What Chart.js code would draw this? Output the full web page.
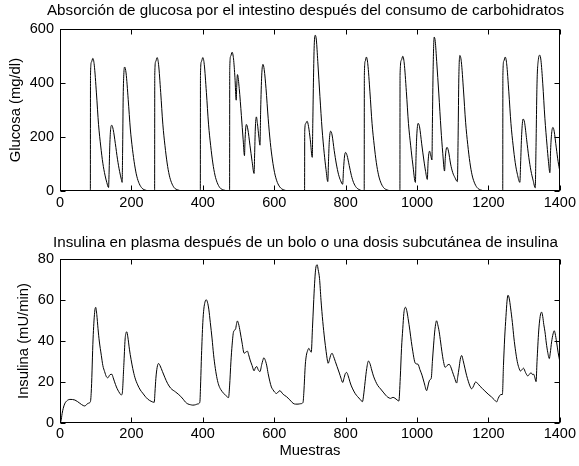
<!DOCTYPE html>
<html>
<head>
<meta charset="utf-8">
<script src="https://cdn.jsdelivr.net/npm/chart.js@4.4.1/dist/chart.umd.min.js"></script>
<style>
  html, body { margin: 0; padding: 0; background: #fff; }
  #wrap { position: relative; width: 579px; height: 466px; }
  canvas { position: absolute; left: 0; }
  #glucoseChart { top: 0; }
  #insulinChart { top: 230px; }
</style>
</head>
<body>
<div id="wrap">
  <canvas id="glucoseChart" width="579" height="230"></canvas>
  <canvas id="insulinChart" width="579" height="236"></canvas>
</div>
<script>
// TICKS
const sampleTicks = [0, 200, 400, 600, 800, 1000, 1200, 1400];
const glucoseTicks = [0, 200, 400, 600];
const insulinTicks = [0, 20, 40, 60, 80];

// GLUCOSE ABSORPTION
const glucoseX = [
  0, 84.5, 85, 85.4, 88, 92, 96, 102, 108, 114, 120, 126, 131, 136,
  137.5, 139.5, 142, 145, 149, 155, 161, 167, 172, 174,
  175.3, 177, 179, 181, 185, 191, 197, 203, 209, 215, 222, 230, 240, 250,
  264.5, 265, 265.4, 268, 272, 276, 282, 288, 294, 300, 306, 312, 320, 330, 340, 350,
  392.5, 393, 393.4, 396, 400, 404, 410, 416, 422, 428, 434, 440, 448, 458, 468,
  474.5, 475, 475.4, 478, 482, 486, 490, 493.5, 495, 497, 502, 508, 513, 516.7,
  518, 520, 522, 526, 532, 538, 543.5, 545, 547, 550, 553, 557, 560,
  562, 565, 568.5, 572, 577, 583, 589, 595, 601, 607, 614, 622, 632, 642,
  684.5, 685, 685.4, 688, 692, 696, 701, 706.5, 708, 710, 712, 715, 718, 722,
  728, 734, 740, 745, 750, 752, 754, 758, 762, 768, 774, 780, 786, 791.7,
  794, 797, 800, 804, 810, 816, 822, 830, 840, 848,
  851.5, 852, 852.4, 855, 858, 862, 868, 874, 880, 886, 892, 898, 906, 916, 926, 940,
  951.5, 952, 952.4, 956, 960, 964, 970, 976, 982, 988, 995.4,
  997, 999, 1003, 1007, 1013, 1019, 1024, 1028.7, 1031, 1035, 1038, 1041.7,
  1043, 1045, 1048, 1051, 1055, 1061, 1067, 1072, 1077, 1079, 1081, 1084, 1088,
  1094, 1100, 1106, 1113, 1115, 1117, 1120, 1124, 1130, 1136, 1142, 1148, 1154,
  1160, 1168, 1178, 1188, 1200,
  1239.5, 1240, 1240.4, 1243, 1247, 1251, 1257, 1263, 1269, 1275, 1281, 1288,
  1290, 1293, 1297, 1301, 1307, 1313, 1319, 1325, 1331, 1333, 1336, 1340, 1343.6,
  1347, 1352, 1358, 1364, 1368, 1372, 1374, 1377, 1380.6, 1384, 1390, 1395, 1400
];
const glucoseY = [
  0, 0, 0, 430, 478, 492, 467, 364, 246, 167, 103, 59, 32, 13,
  70, 170, 232, 244, 228, 176, 118, 72, 42, 32,
  140, 350, 440, 460, 438, 340, 230, 155, 97, 55, 27, 10, 3, 0,
  0, 0, 430, 480, 495, 470, 366, 248, 168, 104, 59, 32, 12, 4, 1, 0,
  0, 0, 430, 480, 495, 470, 366, 248, 168, 104, 59, 32, 12, 4, 1,
  0, 0, 450, 500, 515, 490, 420, 337, 390, 432, 380, 280, 190, 131,
  180, 230, 247, 230, 170, 110, 65, 130, 230, 275, 250, 200, 170,
  300, 430, 470, 450, 380, 270, 180, 115, 68, 38, 18, 7, 2, 0,
  0, 0, 220, 250, 259, 240, 190, 125, 250, 420, 540, 578, 560, 480,
  350, 230, 140, 80, 35, 110, 180, 222, 208, 150, 100, 62, 38, 25,
  80, 130, 143, 132, 95, 58, 32, 13, 4, 0,
  0, 0, 430, 482, 497, 472, 368, 250, 170, 105, 60, 33, 13, 4, 1, 0,
  0, 0, 430, 485, 500, 475, 370, 250, 170, 100, 32,
  120, 200, 251, 238, 175, 115, 72, 43, 110, 148, 135, 115,
  250, 450, 571, 555, 480, 360, 230, 140, 74, 120, 150, 162, 148,
  100, 68, 50, 35, 200, 420, 503, 480, 375, 255, 172, 106, 60,
  33, 13, 4, 1, 0,
  0, 0, 430, 482, 497, 472, 368, 250, 170, 105, 62, 32,
  100, 210, 267, 255, 190, 125, 75, 40, 12, 150, 400, 490, 504,
  485, 400, 270, 170, 110, 68, 150, 215, 236, 222, 160, 110, 72
];

// PLASMA INSULIN
const insulinX = [
  0, 3, 6, 9, 13, 18.5, 27.8, 41.7, 55.6, 65, 69.4, 78.7, 85.2,
  88, 92.6, 97, 100, 103, 106.5, 110, 115.7, 120, 125, 130, 134, 140, 145.4, 149,
  152.8, 158, 162, 167, 171.3, 174, 178.7, 182.4, 185, 187, 190, 194.4, 199, 203.7,
  210, 217.6, 225, 231.5, 238, 245.4, 255, 264, 266, 268.5, 272, 276, 280, 287,
  294, 301, 310, 324, 338, 345, 351.8, 358, 365.7, 372, 379.6, 386, 391.6,
  394, 396.3, 400, 402.8, 406, 409.3, 413, 416.7, 421, 426, 430, 435, 440, 444.4,
  450, 458.3, 465, 472, 475, 478.7, 482, 486, 491.7, 494, 497, 500, 504.6, 510,
  515.7, 520, 525, 528, 532.4, 538, 543.5, 547, 551, 555, 560, 565, 568, 571, 574,
  578.7, 583, 588, 592, 597, 601, 606.5, 611, 615.7, 620, 625, 634, 643.5, 652.8,
  660, 666.7, 674, 680.6, 683, 687, 690, 692.6, 697, 700, 703.7, 707, 710, 713,
  715.7, 718, 720.4, 723, 726.8, 731, 736, 741, 745.4, 748, 751, 755, 758, 762,
  766, 771, 776, 782.4, 787, 791.7, 795, 799, 802.8, 807, 812, 816, 821.3, 827,
  833.3, 840, 847.2, 850, 854.6, 859, 863.9, 868, 873, 878, 884.3, 890, 898, 905,
  912, 918, 926, 932.4, 938, 944.4, 949, 953, 956.5, 960, 963, 965, 967.6, 971,
  975, 980, 984, 988, 993.5, 998, 1002.8, 1008, 1013.9, 1020, 1027, 1030, 1032.4,
  1036, 1039.8, 1043, 1046.3, 1050, 1054.6, 1058, 1062, 1066, 1069.4, 1074, 1078.7,
  1084, 1089.8, 1094, 1099, 1105, 1111, 1114, 1117.6, 1121, 1125, 1129, 1134, 1139,
  1143.5, 1148, 1152.8, 1157, 1164, 1170, 1176, 1183, 1190, 1199, 1208.5, 1216,
  1223, 1227, 1231.5, 1235, 1239, 1242, 1245.4, 1249, 1252, 1254.6, 1258, 1262,
  1267, 1271.3, 1276, 1280.6, 1285, 1289.8, 1294, 1298, 1304, 1310.2, 1315, 1319.4,
  1323, 1326.8, 1330, 1333.3, 1336, 1340.7, 1344, 1347, 1349, 1352, 1355, 1358.3,
  1362, 1366, 1370.4, 1373, 1376.9, 1381, 1384.3, 1387, 1390.7, 1395, 1400
];
const insulinY = [
  0, 1, 4.5, 7, 9.2, 10.6, 11.4, 11.1, 9.5, 8.4, 8.2, 9.5, 10.3,
  16.8, 41, 54, 56.5, 53, 46, 40, 33, 28, 25, 22.5, 22, 23.5, 23.7, 22,
  20, 17.5, 16, 14.5, 13.6, 14, 28, 41, 44, 44.5, 42, 36, 31, 26.6,
  22, 18.5, 16, 14.5, 13, 11.6, 10.5, 10, 15, 21.7, 27, 29, 28, 25,
  22, 19.3, 16.9, 15, 12.9, 11.5, 10, 9.2, 8.8, 8.6, 8.8, 9.2, 10,
  20, 33, 49, 55.6, 59, 60.2, 59, 55.6, 49, 41, 33.5, 26.6, 21.5, 18.5,
  16.3, 14.4, 13.2, 12.3, 18, 29.8, 38, 44.5, 45.8, 48, 49.8, 48.5, 44.5, 39,
  34, 34.5, 35, 33.5, 30.7, 28, 25.4, 26.8, 27.5, 26, 25, 28.5, 30.5, 31.8, 31,
  28.2, 24, 20, 17.5, 16, 15, 14.3, 15, 15.7, 15, 13.9, 12.8, 11.2, 9.5,
  9.1, 9.1, 9.3, 9.9, 15, 28.3, 33, 34.8, 36.4, 35.5, 34.5, 46, 57.6, 68,
  74.7, 77, 77.3, 75, 70.7, 60, 49.5, 41, 34.8, 31.5, 29.1, 31, 33, 34,
  32.5, 30, 27.5, 24.3, 21.8, 19.7, 21.5, 24, 24.6, 23, 20, 18, 16, 14.2,
  12.8, 11.5, 10.3, 13, 20.1, 26.5, 30.2, 29, 25.8, 22.8, 20.1, 18.2, 16.5, 15,
  13.5, 12.5, 11.9, 12.4, 12, 11.1, 10.6, 22, 36.4, 46, 53.5, 55.8, 56.5, 55,
  51, 45, 39.7, 35, 29.8, 28.8, 28.6, 26, 23.3, 19.5, 15.7, 17.5, 19.4,
  21, 21.8, 30, 38, 45.5, 49.9, 48, 44.5, 39.5, 35, 30, 27.1,
  28, 28.6, 27.5, 25, 22, 19.4, 22.5, 26.7, 31, 32.9, 30.5, 26.7, 23,
  20.3, 18, 16.6, 17.5, 19.9, 19.2, 17.9, 16.7, 15.5, 14, 12.6, 11.3,
  10.2, 11.8, 13.3, 13.8, 13.8, 28, 41.5, 52, 59.5, 62.4, 61, 56.2,
  49, 41.5, 35, 30, 27, 25.3, 26, 26.7, 24.5, 22.9, 23.8, 24.5,
  23.6, 23.7, 22, 20.1, 30, 44.9, 51, 53.8, 54.1, 52, 48, 44.5,
  39, 34.5, 31.4, 34, 39.6, 43.5, 45, 43.5, 39.6, 34.5, 29.8
];

Chart.defaults.font.family = "'Liberation Sans', Arial, sans-serif";
Chart.defaults.font.size = 14.5;
Chart.defaults.color = '#000';

// matlab style box with inward ticks on all four sides
const boxPlugin = {
  id: 'matlabBox',
  afterLayout(chart) {
    // the original title is centred a little left of the axes box
    const t = chart.titleBlock;
    t.left = 47;
    t.right = 564;
    t.width = t.right - t.left;
  },
  afterDatasetsDraw(chart) {
    const {ctx, chartArea: a, scales: {x, y}} = chart;
    const L = Math.round(a.left) + 0.5, R = Math.round(a.right) - 0.5;
    const T = Math.round(a.top) + 0.5, B = Math.round(a.bottom) - 0.5;
    ctx.save();
    ctx.strokeStyle = '#000';
    ctx.lineWidth = 1;
    ctx.beginPath();
    x.ticks.forEach(t => {
      const px = Math.round(x.getPixelForValue(t.value)) + 0.5;
      ctx.moveTo(px, B); ctx.lineTo(px, B - 5);
      ctx.moveTo(px, T); ctx.lineTo(px, T + 5);
    });
    y.ticks.forEach(t => {
      const py = Math.round(y.getPixelForValue(t.value)) + 0.5;
      ctx.moveTo(L, py); ctx.lineTo(L + 5, py);
      ctx.moveTo(R, py); ctx.lineTo(R - 5, py);
    });
    ctx.stroke();
    ctx.strokeRect(L, T, R - L, B - T);
    ctx.restore();
  }
};

const TITLE_SIZE = 15.2;

function makeChart(id, xs, ys, yTicks, opts) {
  return new Chart(document.getElementById(id), {
    type: 'line',
    data: {
      datasets: [{
        data: xs.map((x, i) => ({x: x, y: ys[i]})),
        borderColor: '#000',
        borderWidth: 1,
        pointRadius: 0,
        cubicInterpolationMode: 'monotone',
        fill: false
      }]
    },
    options: {
      responsive: false,
      animation: false,
      layout: { padding: { left: 0, right: 15, top: 0, bottom: 0 } },
      plugins: {
        legend: { display: false },
        tooltip: { enabled: false },
        title: {
          display: true,
          text: opts.title,
          font: { size: TITLE_SIZE, weight: 'normal' },
          color: '#000',
          padding: { top: opts.titleTop, bottom: 29.3 - opts.titleTop - TITLE_SIZE * 1.2 }
        }
      },
      scales: {
        x: {
          type: 'linear',
          min: 0,
          max: 1400,
          afterBuildTicks: s => { s.ticks = sampleTicks.map(v => ({value: v})); },
          afterFit: s => { s.height = opts.xHeight; },
          grid: { display: false, drawTicks: false },
          border: { display: false },
          ticks: { padding: 3, maxRotation: 0, color: '#000', callback: v => String(v) },
          title: {
            display: !!opts.xTitle,
            text: opts.xTitle || '',
            color: '#000',
            font: { size: 14.8 },
            padding: { top: 0, bottom: 6.6 }
          }
        },
        y: {
          min: yTicks[0],
          max: yTicks[yTicks.length - 1],
          afterBuildTicks: s => { s.ticks = yTicks.map(v => ({value: v})); },
          afterFit: s => { s.width = 60; },
          grid: { display: false, drawTicks: false },
          border: { display: false },
          ticks: { padding: 6, color: '#000', callback: v => String(v) },
          title: {
            display: true,
            text: opts.yTitle,
            color: '#000',
            font: { size: 14.8 },
            padding: { top: opts.yTitleX - 8.9, bottom: 0 }
          }
        }
      }
    },
    plugins: [boxPlugin]
  });
}

// GLUCOSE CHART
makeChart('glucoseChart', glucoseX, glucoseY, glucoseTicks, {
  title: 'Absorción de glucosa por el intestino después del consumo de carbohidratos',
  titleTop: 2,
  xHeight: 39,
  yTitle: 'Glucosa (mg/dl)',
  yTitleX: 15.5
});

// INSULIN CHART
makeChart('insulinChart', insulinX, insulinY, insulinTicks, {
  title: 'Insulina en plasma después de un bolo o una dosis subcutánea de insulina',
  titleTop: 3.5,
  xHeight: 43.3,
  xTitle: 'Muestras',
  yTitle: 'Insulina (mU/min)',
  yTitleX: 23.5
});
</script>
</body>
</html>
